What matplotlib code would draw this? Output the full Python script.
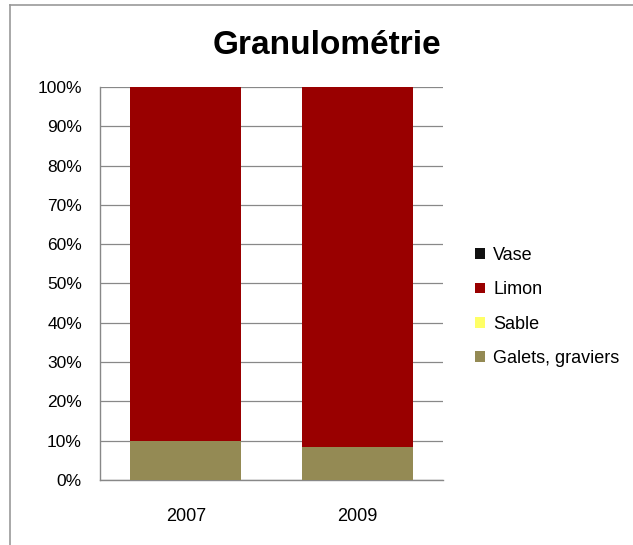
import matplotlib
matplotlib.use("Agg")
import matplotlib.pyplot as plt
from matplotlib.lines import Line2D
from matplotlib.patches import Patch
import numpy as np

years = ["2007", "2009"]
galets = [10.0, 8.3]
sable = [0.0, 0.0]
limon = [90.0, 91.7]
vase = [0.0, 0.0]

series = ["Galets, graviers", "Sable", "Limon", "Vase"]
colors = ["#948A54", "#FFFF66", "#990000", "#111111"]
values = [galets, sable, limon, vase]

plt.rcParams['font.family'] = ['Liberation Sans', 'DejaVu Sans']

fig = plt.figure(figsize=(6.33, 5.45), dpi=100)
ax = fig.add_axes([0.158, 0.1193, 0.542, 0.7211])

x = np.arange(len(years))
bottom = np.zeros(len(years))
for name, col, vals in zip(series, colors, values):
    ax.bar(x, vals, bottom=bottom, width=0.647, color=col, label=name, zorder=3)
    bottom += np.array(vals)

ax.set_xlim(-0.5, 1.5)
ax.set_ylim(0, 100)
ax.set_yticks(np.arange(0, 101, 10))
ax.set_yticklabels([f"{v}%" for v in range(0, 101, 10)], fontsize=12.5)
ax.set_xticks(x)
ax.set_xticklabels(years, fontsize=13)
ax.tick_params(length=0)
ax.tick_params(axis='y', pad=13)
ax.tick_params(axis='x', pad=20)
ax.grid(axis='y', color='#888888', linewidth=0.9, zorder=0)
for s in ['top', 'right']:
    ax.spines[s].set_visible(False)
for s in ['left', 'bottom']:
    ax.spines[s].set_color('#888888')
    ax.spines[s].set_linewidth(1.0)

fig.text(327/633, 1 - 54/545, "Granulométrie", ha='center', va='baseline',
         fontsize=24, fontweight='bold')

handles = [Patch(facecolor=c, edgecolor='none', label=n) for n, c in zip(series, colors)][::-1]
fig.legend(handles=handles, loc='center left', bbox_to_anchor=(459/633, 1 - 307/545),
           frameon=False, fontsize=13, handlelength=0.55, handleheight=0.55,
           handletextpad=0.45, labelspacing=0.95)

# outer chart border (top and left visible)
fig.add_artist(Line2D([10/633, 1], [1 - 5/545, 1 - 5/545], color='#999999', lw=1.2))
fig.add_artist(Line2D([10/633, 10/633], [0, 1 - 5/545], color='#999999', lw=1.2))

fig.savefig("out.png", dpi=100)
